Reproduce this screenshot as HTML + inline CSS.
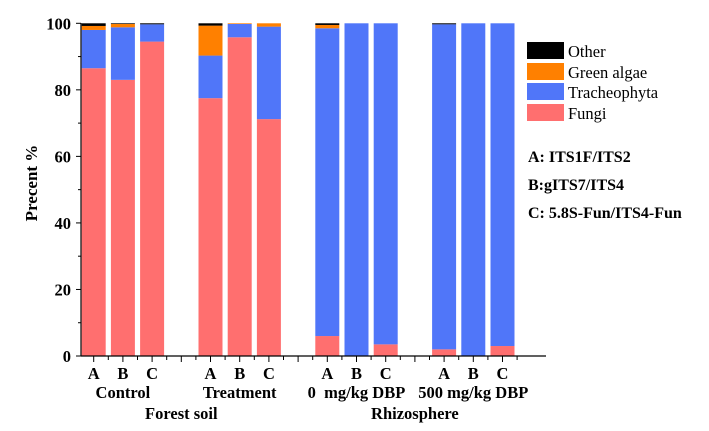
<!DOCTYPE html>
<html><head><meta charset="utf-8"><style>
body{margin:0;background:#fff}
svg{display:block;font-family:"Liberation Serif",serif}
</style></head><body>
<svg id="c" width="709" height="431" viewBox="0 0 709 431">
<g id="bars"></g>
<g id="axes"></g>
<text x="37" y="183" transform="rotate(-90 37 183)" text-anchor="middle" font-size="17" font-weight="bold">Precent %</text>
<g font-size="16.5">
<rect x="527" y="42" width="37" height="17" fill="#000"/>
<text x="568" y="57">Other</text>
<rect x="527" y="63" width="37" height="17" fill="#FF8000"/>
<text x="568" y="78">Green algae</text>
<rect x="527" y="83" width="37" height="17" fill="#5076F9"/>
<text x="568" y="98">Tracheophyta</text>
<rect x="527" y="104" width="37" height="17" fill="#FF6F6F"/>
<text x="568" y="119">Fungi</text>
</g>
<g font-size="16" font-weight="bold">
<text x="528" y="162">A: ITS1F/ITS2</text>
<text x="528" y="190">B:gITS7/ITS4</text>
<text x="528" y="218">C: 5.8S-Fun/ITS4-Fun</text>
</g>
</svg>
<script>
const slots=[0,1,2,4,5,6,8,9,10,12,13,14];
const barLabels=["A","B","C","A","B","C","A","B","C","A","B","C"];
const fungi=[86.5,83,94.5,77.5,95.8,71.2,6,0,3.5,2,0,3];
const trache=[11.5,15.8,5.2,12.8,4,27.8,92.5,100,96.5,97.7,100,97];
const green=[1.2,1,0,9,0.2,1,1,0,0,0,0,0];
const other=[0.8,0.2,0.3,0.7,0,0,0.5,0,0,0.3,0,0];
const groupLabels=["Control","Treatment","0\u00a0 mg/kg DBP","500 mg/kg DBP"];
const superLabels=["Forest soil","Rhizosphere"];
const yTicks=[0,20,40,60,80,100];
const NS="http://www.w3.org/2000/svg";
const X0=81,X1=546,x=s=>93.7+29.2*s,y=v=>356-v*3.327,BW=24;
function mk(t,a,p){const e=document.createElementNS(NS,t);for(const k in a)e.setAttribute(k,a[k]);p.appendChild(e);return e;}
const bars=document.getElementById('bars'),axes=document.getElementById('axes');
const series=[[fungi,"#FF6F6F","fungi"],[trache,"#5076F9","tracheophyta"],[green,"#FF8000","green-algae"],[other,"#000","other"]];
slots.forEach((s,i)=>{let base=0;series.forEach(([arr,col,nm])=>{const v=arr[i];if(v>0){const r=mk('rect',{x:x(s)-BW/2,y:y(base+v),width:BW,height:y(base)-y(base+v),fill:col},bars);

}base+=v;});
const t=mk('text',{x:x(s),y:379,'text-anchor':'middle','font-size':16.5,'font-weight':'bold'},axes);t.textContent=barLabels[i];

});
mk('line',{x1:X0,y1:356,x2:X1,y2:356,stroke:'#000','stroke-width':1.2},axes);
mk('line',{x1:X0,y1:23,x2:X0,y2:356,stroke:'#000','stroke-width':1.2},axes);
yTicks.forEach(v=>{mk('line',{x1:X0-5,y1:y(v),x2:X0,y2:y(v),stroke:'#000'},axes);if(v<100)mk('line',{x1:X0-3,y1:y(v+10),x2:X0,y2:y(v+10),stroke:'#000'},axes);
const t=mk('text',{x:71,y:y(v)+6,'text-anchor':'end','font-size':16.5,'font-weight':'bold'},axes);t.textContent=v;

});
for(let k=-1;k<=29;k++){const xx=x(k/2);if(xx>=X0&&xx<=X1)mk('line',{x1:xx,y1:356,x2:xx,y2:k%2?360:362,stroke:'#000'},axes);}
groupLabels.forEach((g,i)=>{const t=mk('text',{x:x(i*4+1),y:398,'text-anchor':'middle','font-size':16.5,'font-weight':'bold'},axes);t.textContent=g;

});
superLabels.forEach((g,i)=>{const t=mk('text',{x:x(i*8+3),y:419,'text-anchor':'middle','font-size':16.5,'font-weight':'bold'},axes);t.textContent=g;

});
</script>
</body></html>
